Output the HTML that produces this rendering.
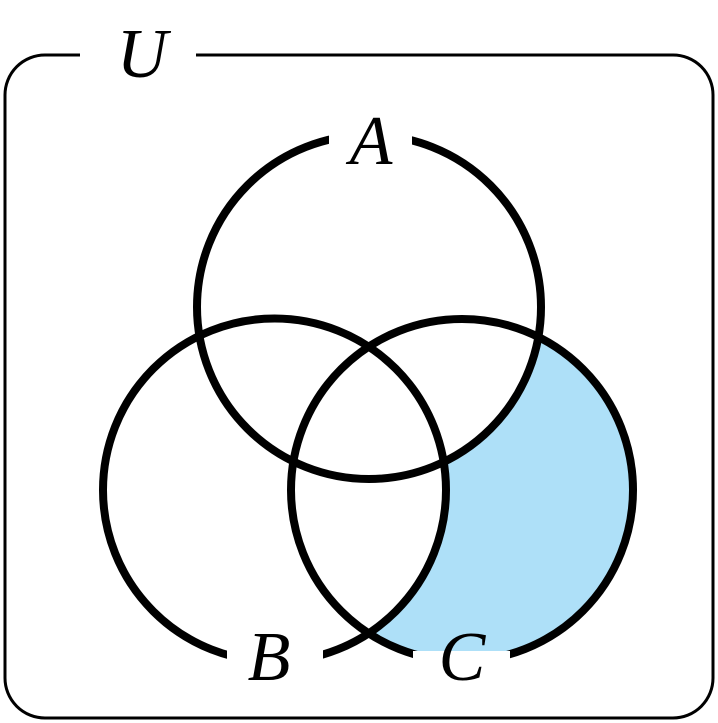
<!DOCTYPE html>
<html><head><style>html,body{margin:0;padding:0;background:#fff;}svg{display:block;}</style></head>
<body>
<svg width="718" height="723" viewBox="0 0 718 723" xmlns="http://www.w3.org/2000/svg">
<rect x="5" y="55" width="708" height="663" rx="40" fill="none" stroke="#000" stroke-width="3"/>
<rect x="80" y="40" width="116" height="30" fill="#fff"/>
<circle cx="462" cy="490" r="171" fill="#aee0f8"/>
<circle cx="369" cy="307" r="172" fill="#fff"/>
<circle cx="274.5" cy="490" r="171.5" fill="#fff"/>
<g fill="none" stroke="#000" stroke-width="8">
<circle cx="369" cy="307" r="172"/>
<circle cx="274.5" cy="490" r="171.5"/>
<circle cx="462" cy="490" r="171"/>
</g>
<rect x="329" y="110" width="83" height="50" fill="#fff"/>
<rect x="227" y="625" width="96" height="60" fill="#fff"/>
<rect x="413" y="651" width="97" height="40" fill="#fff"/>
<g font-family="Liberation Serif, serif" font-style="italic" font-size="70" fill="#000" text-anchor="middle">
<text x="142" y="77">U</text>
<text x="371" y="164">A</text>
<text x="269" y="680">B</text>
<text x="462" y="680">C</text>
</g>
</svg>
</body></html>
